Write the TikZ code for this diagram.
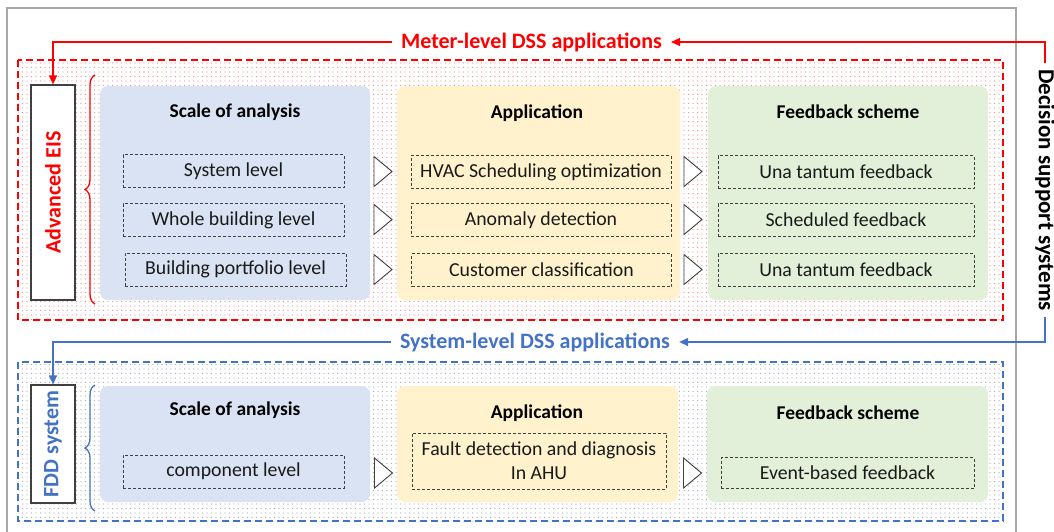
\documentclass[tikz,border=0pt]{standalone}
\usepackage{fontspec}
\setmainfont{Carlito}
\usetikzlibrary{patterns.meta,decorations.pathreplacing,arrows.meta}
\definecolor{dssred}{HTML}{FF0000}
\definecolor{dssblue}{HTML}{4472C4}
\definecolor{pblue}{HTML}{DAE3F3}
\definecolor{pyellow}{HTML}{FFF2CC}
\definecolor{pgreen}{HTML}{E2F0D9}
\definecolor{framegray}{HTML}{A6A6A6}
\definecolor{edgegray}{HTML}{404040}
\definecolor{reddot}{HTML}{EE9090}
\definecolor{bluedot}{HTML}{A4ACBC}
\begin{document}
\begin{tikzpicture}[x=1pt,y=-1pt,
  bigtitle/.style={font=\fontsize{22}{26}\selectfont\bfseries, inner xsep=9pt, inner ysep=2pt},
  head/.style={font=\fontsize{19.5}{23}\selectfont\bfseries, anchor=base, inner sep=0pt},
  item/.style={draw=edgegray, dash pattern=on 3pt off 2pt, line width=0.9pt, minimum height=33pt,
    font=\fontsize{19.8}{24}\selectfont, text=black!90, inner sep=0pt, align=center},
  panel/.style={rounded corners=8pt, inner sep=0pt},
  sysbox/.style={draw=edgegray, fill=white, line width=1.2pt, minimum width=44pt, inner sep=0pt,
    font=\fontsize{22}{26}\selectfont\bfseries},
  redline/.style={draw=dssred, line width=1.3pt, -{Triangle[length=9pt,width=8pt]}},
  blueline/.style={draw=dssblue, line width=1.3pt, -{Triangle[length=9pt,width=8pt]}},
  arrowtri/.pic={\draw[fill=white, draw=edgegray, line width=0.9pt] (-9,-15) -- (9,0) -- (-9,15) -- cycle;}
]
\useasboundingbox (0,0) rectangle (1054,531);
% outer frame
\draw[framegray, line width=1.3pt] (7,535) -- (7,8) -- (1016,8) -- (1016,535);

% ---------- meter level group ----------
\fill[pattern={Dots[distance=4.5pt,radius=0.65pt]}, pattern color=reddot] (18,60) rectangle (1003,320);
\draw[dssred, line width=1.4pt, dash pattern=on 7pt off 4pt] (18,60) rectangle (1003,320);

\node[panel, fill=pblue, minimum width=270pt, minimum height=214pt] (pb1) at (235,193) {};
\node[panel, fill=pyellow, minimum width=283pt, minimum height=214pt] (py1) at (538.5,193) {};
\node[panel, fill=pgreen, minimum width=280pt, minimum height=214pt] (pg1) at (848,193) {};

\node[head] (h1) at (235,117) {Scale of analysis};
\node[head] (h2) at (537,118) {Application};
\node[head] (h3) at (848,118) {Feedback scheme};

\node[item, minimum width=221pt] (s1) at (233.5,171) {System level};
\node[item, minimum width=221pt] (s2) at (233.5,220) {Whole building level};
\node[item, minimum width=221pt] (s3) at (235.5,269.5) {Building portfolio level};
\node[item, minimum width=260pt] (a1) at (541,172) {HVAC Scheduling optimization};
\node[item, minimum width=260pt] (a2) at (541,220) {Anomaly detection};
\node[item, minimum width=260pt] (a3) at (541.5,270) {Customer classification};
\node[item, minimum width=256pt] (f1) at (846,172) {Una tantum feedback};
\node[item, minimum width=256pt] (f2) at (846,220) {Scheduled feedback};
\node[item, minimum width=256pt] (f3) at (846,270) {Una tantum feedback};

\pic at (383,171.5) {arrowtri};
\pic at (383,219.5) {arrowtri};
\pic at (383,269.5) {arrowtri};
\pic at (693,171.5) {arrowtri};
\pic at (693,219.5) {arrowtri};
\pic at (693,269.5) {arrowtri};

\node[sysbox, minimum height=215pt] (eis) at (53,192.5) {\rotatebox{90}{\textcolor{dssred}{Advanced EIS}}};
\draw[dssred, line width=1.3pt, decorate, decoration={brace, amplitude=10pt}] (95,304) -- (95,75);

% ---------- system level group ----------
\fill[pattern={Dots[distance=4.5pt,radius=0.65pt]}, pattern color=bluedot] (18,362) rectangle (1003,521);
\draw[dssblue, line width=1.4pt, dash pattern=on 7pt off 4pt] (18,362) rectangle (1003,521);

\node[panel, fill=pblue, minimum width=270pt, minimum height=116pt] (pb2) at (235,444) {};
\node[panel, fill=pyellow, minimum width=281pt, minimum height=116pt] (py2) at (537.5,444) {};
\node[panel, fill=pgreen, minimum width=281pt, minimum height=116pt] (pg2) at (847.5,444) {};

\node[head] (h4) at (235,415) {Scale of analysis};
\node[head] (h5) at (537,418) {Application};
\node[head] (h6) at (848,419) {Feedback scheme};

\node[item, minimum width=221pt] (s4) at (233.5,471.5) {component level};
\node[item, minimum width=254pt, minimum height=56pt] (a4) at (539,461) {Fault detection and diagnosis\\In AHU};
\node[item, minimum width=253pt, minimum height=31pt] (f4) at (847.5,473) {Event-based feedback};

\pic at (383.5,473) {arrowtri};
\pic at (692.5,473) {arrowtri};

\node[sysbox, minimum height=118pt] (fdd) at (53,444) {\rotatebox{90}{\textcolor{dssblue}{FDD system}}};
\draw[dssblue, line width=1.3pt, decorate, decoration={brace, amplitude=10pt}] (95,511) -- (95,385);

% ---------- titles and connectors ----------
\node[bigtitle, text=dssred] (meter) at (531.5,42) {Meter-level DSS applications};
\node[bigtitle, text=dssblue] (system) at (535,342) {System-level DSS applications};
\node[font=\fontsize{23}{27}\selectfont\bfseries, inner xsep=0pt, inner ysep=6pt] (dss) at (1045,190) {\rotatebox{-90}{Decision support systems}};

\draw[redline] (dss.north) |- (meter.east);
\draw[redline] (meter.west) -| (eis.north);
\draw[blueline] (dss.south) |- (system.east);
\draw[blueline] (system.west) -| (fdd.north);
\end{tikzpicture}
\end{document}
